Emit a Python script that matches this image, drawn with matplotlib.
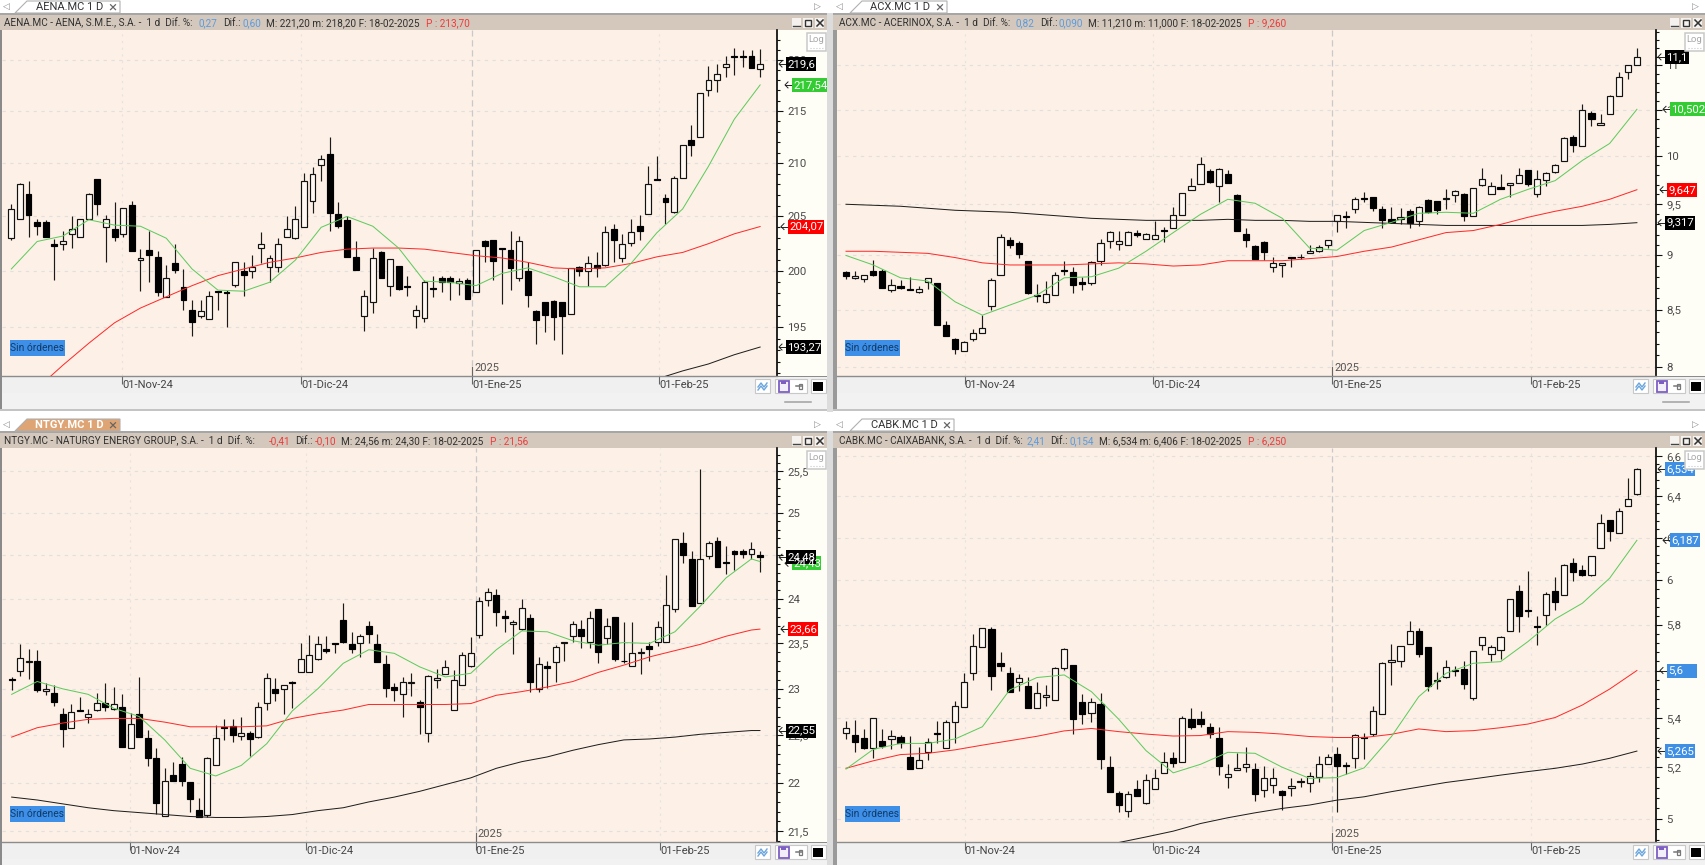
import matplotlib
matplotlib.use("Agg")
import matplotlib.pyplot as plt
from matplotlib.patches import Rectangle, Polygon
from matplotlib.ticker import FixedLocator, FuncFormatter, NullFormatter

W, H = 1706, 865
FONT = "Roboto"
plt.rcParams["font.family"] = [FONT, "DejaVu Sans"]

# ---------- AENA ----------
aena_open = [203.0,204.8,207.1,204.5,204.5,202.5,202.5,203.4,203.1,204.8,
208.5,204.0,203.8,203.4,206.1,201.0,201.9,201.3,197.7,200.7,
198.6,196.5,196.0,195.7,198.2,198.1,198.8,200.0,200.0,202.1,
200.4,200.4,203.1,203.0,204.0,206.4,209.8,210.9,205.2,204.7,
201.3,196.0,197.2,201.7,198.7,200.5,198.7,196.0,195.8,198.5,
199.4,199.4,198.9,199.2,198.1,202.7,202.8,202.1,201.9,199.4,
200.0,196.4,197.2,197.3,197.2,196.2,200.4,200.0,200.6,200.6,
203.8,201.2,202.6,204.1,205.2,208.5,206.7,205.4,208.6,212.2,
212.5,217.0,218.0,219.3,220.4,220.4,220.4,219.1]
aena_close = [205.7,208.0,205.1,204.1,203.1,202.3,202.7,203.8,204.8,207.1,
206.2,204.8,203.1,205.8,201.8,201.2,201.5,198.1,199.4,200.1,
197.4,195.5,196.4,197.8,198.1,198.0,200.8,199.7,200.4,202.5,
201.2,202.5,203.8,204.8,208.3,209.0,210.4,205.3,204.1,201.3,
200.1,197.8,201.2,199.4,201.1,198.4,198.6,196.5,199.0,198.4,
199.0,199.0,199.1,197.5,201.9,202.3,200.9,202.0,200.3,202.7,
197.9,195.6,196.1,195.9,196.0,200.3,200.0,200.7,200.3,203.6,
202.8,202.5,203.6,203.7,208.0,208.4,206.3,208.6,211.7,211.7,
216.7,218.0,218.6,219.6,220.3,220.3,219.2,219.6]
aena_high = [206.2,208.1,208.3,204.8,204.7,202.9,203.7,205.0,204.8,207.2,
208.5,205.1,206.3,205.8,206.4,202.0,203.7,201.8,200.6,202.5,
200.2,197.4,197.4,198.2,198.2,198.3,200.8,200.8,201.5,203.6,
201.5,203.0,205.0,206.0,209.1,209.6,210.8,212.5,206.3,205.0,
202.7,198.3,202.1,201.8,201.1,200.5,199.6,197.0,199.2,199.6,
199.6,199.6,199.4,199.4,201.9,202.8,202.8,202.1,203.7,203.2,
200.8,196.5,197.2,197.4,197.2,200.3,200.5,201.4,201.7,204.1,
204.3,203.4,204.8,205.1,209.7,210.7,207.1,208.8,211.7,213.6,
216.7,219.4,219.6,220.4,221.2,221.0,221.0,221.1]
aena_low = [202.8,204.8,203.1,203.3,203.1,199.2,201.9,202.1,203.1,204.8,
205.1,200.8,202.7,203.1,201.8,198.2,199.0,197.8,197.7,199.8,
196.5,194.2,195.8,195.7,196.5,195.0,198.6,197.8,199.4,200.7,
199.0,199.9,203.1,202.9,204.0,205.3,208.3,203.7,203.9,201.3,
200.1,194.7,196.3,199.4,197.8,198.3,197.8,194.9,195.5,197.7,
198.1,197.4,197.9,197.5,198.1,200.8,199.2,197.1,198.3,199.1,
196.8,193.5,194.6,193.9,192.7,196.2,199.6,198.7,199.5,200.5,
200.8,200.8,202.3,202.8,205.2,208.4,204.3,205.3,208.6,210.7,
212.5,216.5,216.8,218.3,218.5,219.3,219.2,218.3]
aena_ma_idx = list(range(0, 88, 3))
aena_green = [200.2,202.7,203.2,204.7,204.2,204.1,203.0,200.2,198.3,198.2,
199.0,201.0,204.0,205.0,204.1,202.1,199.1,199.0,198.7,199.8,
200.3,199.5,198.6,198.6,200.7,203.5,205.7,209.7,214.2,217.54]
aena_red_idx = list(range(3, 88, 3))
aena_red = [189.7,191.7,193.6,195.4,196.7,197.7,198.7,199.6,200.2,200.8,
201.2,201.7,202.0,202.1,202.1,202.0,201.7,201.4,201.2,200.8,
200.3,200.2,200.3,200.7,201.3,201.7,202.5,203.4,204.07]
aena_black_idx = [75, 78, 81, 84, 87]
aena_black = [190.5,191.2,191.8,192.6,193.27]

# ---------- ACX ----------
acx_open = [8.84,8.79,8.78,8.85,8.85,8.68,8.71,8.69,8.66,8.75,
8.74,8.36,8.24,8.14,8.24,8.29,8.53,8.82,9.15,9.12,
8.95,8.63,8.57,8.63,8.86,8.84,8.75,8.74,8.95,9.14,
9.11,9.10,9.22,9.16,9.16,9.25,9.26,9.39,9.64,9.71,
9.84,9.69,9.81,9.59,9.21,9.09,9.13,8.89,8.91,8.99,
8.985,9.02,9.04,9.10,9.33,9.38,9.45,9.56,9.57,9.45,
9.35,9.35,9.43,9.33,9.54,9.53,9.55,9.59,9.60,9.38,
9.70,9.60,9.67,9.70,9.72,9.85,9.60,9.75,9.83,9.94,
10.20,10.10,10.46,10.33,10.45,10.65,10.93,11.01]
acx_close = [8.81,8.81,8.82,8.82,8.70,8.72,8.70,8.68,8.69,8.79,
8.36,8.27,8.15,8.21,8.29,8.34,8.77,9.18,9.10,9.01,
8.65,8.62,8.64,8.82,8.85,8.72,8.73,8.94,9.12,9.23,
9.14,9.23,9.20,9.21,9.20,9.24,9.39,9.61,9.68,9.91,
9.73,9.86,9.72,9.24,9.15,8.97,9.03,8.93,8.93,8.98,
8.99,9.04,9.08,9.15,9.39,9.37,9.55,9.55,9.46,9.34,
9.32,9.37,9.31,9.47,9.42,9.44,9.56,9.63,9.38,9.66,
9.76,9.68,9.65,9.72,9.80,9.71,9.76,9.82,9.90,10.19,
10.11,10.49,10.39,10.35,10.65,10.87,11.01,11.10]
acx_high = [8.85,8.85,8.82,8.96,8.87,8.78,8.77,8.80,8.71,8.79,
8.74,8.40,8.25,8.22,8.33,8.45,8.79,9.21,9.18,9.14,
8.95,8.73,8.76,8.84,8.95,8.89,8.80,8.95,9.16,9.24,
9.24,9.24,9.25,9.22,9.33,9.27,9.47,9.61,9.77,9.99,
9.86,9.87,9.85,9.60,9.26,9.10,9.14,8.99,8.93,8.99,
9.01,9.10,9.10,9.15,9.39,9.43,9.57,9.62,9.57,9.48,
9.47,9.46,9.45,9.48,9.55,9.53,9.65,9.64,9.61,9.66,
9.87,9.73,9.81,9.72,9.87,9.85,9.85,9.83,9.91,10.20,
10.22,10.56,10.48,10.45,10.66,10.92,11.01,11.20]
acx_low = [8.78,8.78,8.75,8.81,8.70,8.66,8.69,8.68,8.65,8.69,
8.36,8.27,8.11,8.14,8.22,8.29,8.50,8.82,9.07,8.98,
8.64,8.57,8.56,8.63,8.82,8.65,8.68,8.72,8.91,9.07,
9.05,9.10,9.18,9.16,9.16,9.13,9.26,9.39,9.64,9.71,
9.72,9.52,9.72,9.24,9.08,8.97,8.96,8.84,8.80,8.89,
8.97,9.02,9.03,9.07,9.23,9.26,9.41,9.52,9.43,9.26,
9.31,9.30,9.26,9.28,9.41,9.40,9.45,9.52,9.33,9.38,
9.68,9.60,9.66,9.57,9.72,9.68,9.57,9.68,9.82,9.94,
10.04,10.10,10.32,10.33,10.45,10.65,10.84,11.01]
acx_ma_idx = list(range(0, 88, 3))
acx_green = [9.00,8.91,8.79,8.76,8.57,8.45,8.54,8.63,8.79,8.80,
8.88,9.04,9.22,9.40,9.55,9.51,9.36,9.07,9.05,9.24,
9.32,9.41,9.42,9.41,9.55,9.65,9.74,9.95,10.13,10.502]
acx_red = [9.04,9.04,9.03,9.02,8.98,8.93,8.91,8.91,8.91,8.92,
8.93,8.92,8.90,8.91,8.95,8.95,8.95,8.97,8.99,9.04,
9.08,9.15,9.22,9.24,9.30,9.37,9.43,9.48,9.55,9.647]
acx_black = [9.50,9.49,9.48,9.46,9.44,9.43,9.42,9.40,9.38,9.36,
9.35,9.34,9.34,9.34,9.35,9.34,9.34,9.33,9.33,9.32,
9.31,9.30,9.29,9.29,9.29,9.29,9.29,9.29,9.30,9.317]

# ---------- NTGY ----------
ntgy_open = [23.11,23.20,23.29,23.31,22.98,22.96,22.73,22.58,22.77,22.70,
22.77,22.85,22.78,22.80,22.36,22.73,22.47,22.26,21.66,22.08,
22.20,22.01,21.72,21.67,22.19,22.59,22.60,22.49,22.52,22.48,
22.85,23.00,23.00,23.07,23.18,23.18,23.33,23.44,23.50,23.76,
23.49,23.50,23.70,23.49,23.27,23.02,22.94,23.06,22.86,22.52,
23.10,23.16,22.77,23.04,23.25,23.59,23.99,24.05,23.81,23.72,
23.66,23.78,23.00,23.25,23.29,23.50,23.58,23.66,23.52,23.89,
23.56,23.80,23.31,23.25,23.39,23.47,23.52,23.52,23.89,24.64,
24.46,23.96,24.49,24.67,24.43,24.55,24.55,24.52,24.50]
ntgy_close = [23.10,23.34,23.31,22.99,23.00,22.86,22.57,22.75,22.76,22.73,
22.85,22.80,22.84,22.37,22.62,22.48,22.26,21.79,22.02,22.02,
22.02,21.83,21.64,22.26,22.47,22.58,22.50,22.52,22.46,22.80,
23.12,22.95,23.04,23.06,23.33,23.37,23.49,23.42,23.49,23.52,
23.44,23.58,23.60,23.29,23.01,22.99,23.08,23.08,22.80,23.14,
23.12,23.24,23.10,23.37,23.39,23.98,24.08,23.85,23.79,23.74,
23.90,23.07,23.27,23.23,23.46,23.52,23.72,23.58,23.78,23.40,
23.70,23.33,23.30,23.39,23.41,23.44,23.68,23.93,24.69,24.50,
23.92,24.46,24.64,24.37,24.41,24.52,24.52,24.58,24.48]
ntgy_high = [23.13,23.49,23.44,23.43,23.06,23.04,22.79,22.84,22.91,22.78,
22.95,23.06,23.02,22.94,22.74,23.13,22.56,22.36,22.15,22.22,
22.27,22.01,21.84,22.27,22.61,22.67,22.67,22.70,22.54,22.86,
23.17,23.12,23.04,23.09,23.51,23.59,23.58,23.58,23.51,23.95,
23.63,23.61,23.75,23.60,23.37,23.06,23.13,23.17,22.88,23.15,
23.22,23.32,23.21,23.40,23.57,24.02,24.13,24.11,23.87,23.76,
24.00,23.83,23.35,23.30,23.48,23.52,23.75,23.76,23.86,23.89,
23.79,23.80,23.74,23.74,23.45,23.52,23.75,24.28,24.69,24.77,
24.55,25.52,24.67,24.71,24.61,24.56,24.58,24.66,24.55]
ntgy_low = [22.99,23.14,23.11,22.97,22.93,22.81,22.37,22.58,22.76,22.63,
22.76,22.76,22.77,22.37,22.36,22.48,22.17,21.68,21.66,22.02,
21.97,21.70,21.64,21.64,22.19,22.45,22.43,22.45,22.28,22.47,
22.77,22.87,22.73,22.79,23.18,23.18,23.32,23.39,23.39,23.50,
23.39,23.35,23.50,23.29,22.91,22.87,22.69,22.92,22.51,22.43,
23.01,23.16,22.77,23.04,23.24,23.56,23.92,23.69,23.63,23.38,
23.65,22.97,22.97,23.01,23.07,23.30,23.52,23.45,23.45,23.28,
23.49,23.30,23.28,23.25,23.16,23.31,23.47,23.52,23.85,24.41,
23.92,23.96,24.46,24.37,24.29,24.33,24.47,24.46,24.31]
ntgy_ma_idx = list(range(0, 89, 3)) + [88]
ntgy_green = [22.94,23.08,23.00,22.94,22.79,22.70,22.45,22.15,22.07,22.18,
22.41,22.76,23.00,23.28,23.43,23.39,23.24,23.13,23.17,23.43,
23.64,23.63,23.53,23.48,23.51,23.50,23.63,23.92,24.24,24.46,24.43]
ntgy_red = [22.48,22.58,22.63,22.67,22.68,22.68,22.64,22.59,22.59,22.59,
22.60,22.68,22.73,22.77,22.83,22.83,22.83,22.83,22.84,22.93,
22.97,23.02,23.08,23.18,23.26,23.35,23.42,23.49,23.58,23.65,23.66]
ntgy_black = [21.85,21.82,21.78,21.74,21.71,21.69,21.67,21.65,21.64,21.64,
21.65,21.67,21.71,21.74,21.80,21.85,21.91,21.98,22.05,22.15,
22.22,22.27,22.34,22.40,22.45,22.46,22.48,22.51,22.53,22.55,22.55]

# ---------- CABK ----------
cabk_open = [5.340,5.330,5.317,5.276,5.305,5.313,5.322,5.240,5.198,5.263,
5.337,5.279,5.382,5.447,5.591,5.700,5.781,5.634,5.588,5.551,
5.534,5.440,5.486,5.475,5.610,5.624,5.465,5.419,5.458,5.202,
5.100,5.030,5.114,5.058,5.116,5.176,5.236,5.220,5.397,5.394,
5.363,5.317,5.163,5.188,5.201,5.192,5.109,5.130,5.108,5.117,
5.143,5.138,5.163,5.212,5.253,5.208,5.239,5.322,5.334,5.417,
5.635,5.641,5.716,5.772,5.700,5.555,5.571,5.604,5.607,5.482,
5.712,5.673,5.689,5.770,5.952,5.866,5.793,5.845,5.952,5.934,
6.081,6.047,6.024,6.152,6.282,6.221,6.351,6.410]
cabk_close = [5.360,5.303,5.276,5.401,5.287,5.328,5.296,5.193,5.228,5.303,
5.333,5.382,5.450,5.549,5.705,5.784,5.575,5.618,5.507,5.568,
5.440,5.503,5.496,5.610,5.692,5.395,5.415,5.465,5.233,5.104,
5.052,5.093,5.088,5.148,5.159,5.220,5.216,5.401,5.363,5.375,
5.334,5.205,5.173,5.196,5.213,5.095,5.159,5.159,5.092,5.125,
5.147,5.165,5.212,5.240,5.205,5.204,5.330,5.320,5.431,5.634,
5.646,5.705,5.772,5.673,5.535,5.559,5.614,5.600,5.541,5.686,
5.744,5.700,5.744,5.914,5.840,5.860,5.790,5.940,5.902,6.072,
6.038,6.024,6.115,6.269,6.229,6.325,6.384,6.534]
cabk_high = [5.389,5.391,5.355,5.401,5.353,5.351,5.330,5.328,5.280,5.320,
5.387,5.391,5.471,5.588,5.757,5.787,5.788,5.682,5.617,5.584,
5.574,5.549,5.538,5.617,5.696,5.624,5.499,5.482,5.503,5.247,
5.106,5.106,5.150,5.173,5.193,5.263,5.260,5.409,5.442,5.428,
5.378,5.362,5.212,5.256,5.280,5.216,5.206,5.196,5.110,5.159,
5.159,5.182,5.247,5.252,5.283,5.222,5.333,5.337,5.451,5.635,
5.716,5.706,5.817,5.784,5.700,5.592,5.646,5.621,5.643,5.686,
5.747,5.711,5.751,5.914,5.980,6.041,5.837,5.949,6.015,6.074,
6.106,6.072,6.115,6.314,6.285,6.342,6.489,6.537]
cabk_low = [5.314,5.263,5.272,5.239,5.276,5.273,5.276,5.192,5.196,5.229,
5.296,5.276,5.296,5.447,5.559,5.700,5.517,5.598,5.507,5.513,
5.440,5.440,5.451,5.475,5.602,5.334,5.374,5.382,5.193,5.104,
5.024,5.006,5.088,5.055,5.116,5.176,5.202,5.220,5.355,5.362,
5.320,5.169,5.117,5.188,5.182,5.069,5.084,5.097,5.032,5.087,
5.121,5.104,5.143,5.212,5.024,5.175,5.196,5.233,5.328,5.416,
5.538,5.617,5.716,5.660,5.513,5.520,5.566,5.578,5.521,5.475,
5.689,5.643,5.648,5.770,5.769,5.836,5.711,5.798,5.866,5.931,
5.998,6.021,6.021,6.152,6.185,6.220,6.351,6.406]
cabk_ma_idx = list(range(0, 88, 3))
cabk_green = [5.193,5.272,5.296,5.296,5.314,5.364,5.517,5.570,5.581,5.510,
5.395,5.267,5.178,5.212,5.260,5.256,5.200,5.156,5.159,5.198,
5.324,5.489,5.588,5.631,5.638,5.725,5.825,5.896,6.010,6.187]
cabk_red = [5.196,5.226,5.251,5.256,5.270,5.289,5.307,5.325,5.347,5.357,
5.344,5.334,5.326,5.328,5.344,5.341,5.334,5.324,5.320,5.320,
5.333,5.355,5.344,5.348,5.360,5.375,5.402,5.454,5.521,5.600]
cabk_black_idx = list(range(30, 88, 3))
cabk_black = [4.909,4.930,4.952,4.981,5.003,5.022,5.039,5.052,5.071,5.084,
5.104,5.122,5.140,5.154,5.169,5.183,5.196,5.213,5.236,5.265]

date_labels = ["01-Nov-24", "01-Dic-24", "01-Ene-25", "01-Feb-25"]
year_label = "2025"

C_BG = "#FDF0E6"; C_HDR = "#D4C8BC"; C_AXIS = "#FFFEF6"; C_STRIP = "#F0F0F0"
C_BLUE = "#5B9BE0"; C_RED = "#F03A3A"; C_TAG_G = "#33CC33"; C_TAG_R = "#FF0000"; C_TAG_B = "#3F90E4"
FS = 7.4; HFS = 7.2

fig = plt.figure(figsize=(W / 100, H / 100), dpi=100, facecolor="white")
def frac(l, t, r, b):
    return [l / W, 1 - b / H, (r - l) / W, (b - t) / H]

back = fig.add_axes([0, 0, 1, 1], zorder=0); back.set_xlim(0, W); back.set_ylim(H, 0); back.axis("off")
over = fig.add_axes([0, 0, 1, 1], zorder=5); over.set_xlim(0, W); over.set_ylim(H, 0); over.axis("off"); over.patch.set_alpha(0)

def rect(a, x0, y0, x1, y1, fc, ec="none", lw=0, z=1):
    a.add_patch(Rectangle((x0, y0), x1 - x0, y1 - y0, fc=fc, ec=ec, lw=lw, zorder=z))

def chrome(p):
    l, r, t, b, wr = p["box"]
    fl = l - 2 if l < 10 else l - 4
    tab_t = t - 30
    rect(back, fl, t - 17, wr, t - 15, "#A6A6A6")
    rect(back, fl, t - 15, wr, t, C_HDR)
    rect(back, fl, t, l, b + 34, "#8A8A8A" if l < 10 else "#9A9A9A")
    rect(back, r, t, wr, b, C_AXIS)
    rect(back, l, b, wr, b + 17, C_STRIP)
    rect(back, l, b + 17, wr, min(b + 34, H), "#F2F2F2")
    rect(back, l, b, wr, b + 1.2, "#8C8C8C")
    if b + 34 < H:
        rect(back, fl, b + 33, wr, b + 35, "#C4C4C4")
    rect(back, wr, t - 17, wr + 6, min(b + 36, H), "#DCDCDC")
    tx0, tx1 = p["tab"]
    active = p.get("active", False)
    ty = t - 17
    pts = [(tx0 - 12, ty), (tx0, tab_t + 1), (tx1, tab_t + 1), (tx1, ty)]
    back.add_patch(Polygon(pts, closed=True, fc="#DFA474" if active else "white",
                           ec="#B0B0B0", lw=0.8, zorder=2))
    back.text(p["tabtxt"], (ty + tab_t) / 2 + 0.5, p["tabname"], fontsize=8, va="center",
              color="white" if active else "#333333", fontweight="bold" if active else "normal", zorder=3)
    back.text(tx1 - 8, (ty + tab_t) / 2 + 0.5, "\u00d7", fontsize=11, va="center", ha="center", color="#666666", zorder=3)
    back.text(fl + 3, (ty + tab_t) / 2, "\u25c1", fontsize=6.5, va="center", ha="left", color="#8A8A8A", zorder=3, family="DejaVu Sans")
    back.text(wr - 10, (ty + tab_t) / 2, "\u25b7", fontsize=6.5, va="center", ha="center", color="#8A8A8A", zorder=3, family="DejaVu Sans")
    yh = t - 7
    for x, s, c in p["header"]:
        back.text(x, yh, s, fontsize=HFS, va="center", ha="left", color=c, zorder=3)
    bx = wr - 35
    for i in range(3):
        rect(back, bx + i * 11.5, yh - 5, bx + i * 11.5 + 9.5, yh + 5, "#F4F1EE", z=3)
    over.plot([bx + 1.5, bx + 8], [yh + 3, yh + 3], color="#444", lw=1)
    rect(over, bx + 13.5, yh - 3, bx + 19.5, yh + 3, "none", ec="#333", lw=1)
    over.plot([bx + 25, bx + 31], [yh - 3, yh + 3], color="#333", lw=1.1)
    over.plot([bx + 25, bx + 31], [yh + 3, yh - 3], color="#333", lw=1.1)
    iy0, iy1 = b + 3, b + 17
    a0 = wr - 72
    rect(over, a0, iy0, a0 + 15, iy1, "white", ec="#C8C8C8", lw=0.8)
    over.plot([a0 + 3, a0 + 6, a0 + 9, a0 + 12], [iy0 + 8, iy0 + 4, iy0 + 8, iy0 + 4], color="#6AA5DC", lw=1)
    over.plot([a0 + 3, a0 + 6, a0 + 9, a0 + 12], [iy0 + 11, iy0 + 7, iy0 + 11, iy0 + 7], color="#6AA5DC", lw=1)
    a1 = wr - 52
    rect(over, a1, iy0, a1 + 32, iy1, "white", ec="#C8C8C8", lw=0.8)
    rect(over, a1 + 4, iy0 + 1.5, a1 + 14, iy1 - 1.5, "#F3EFFA", ec="#7D5FC4", lw=1.3)
    rect(over, a1 + 6.5, iy0 + 1.5, a1 + 11.5, iy0 + 5, "#7D5FC4")
    over.plot([a1 + 21, a1 + 27], [iy0 + 7, iy0 + 7], color="#777", lw=1.1)
    rect(over, a1 + 24, iy0 + 4.5, a1 + 27, iy0 + 9.5, "white", ec="#777", lw=0.9)
    a2 = wr - 16
    rect(over, a2, iy0, a2 + 15, iy1, "white", ec="#C8C8C8", lw=0.8)
    rect(over, a2 + 2.5, iy0 + 2.5, a2 + 12.5, iy1 - 2.5, "black")
    if b + 34 <= H:
        over.plot([wr - 42, wr - 16], [b + 26, b + 26], color="#A0A0A0", lw=1.1)
    sx, sy = p["sin"]
    rect(over, sx, sy, sx + 55, sy + 16, "#3D8FE8")
    over.text(sx + 27.5, sy + 8, "Sin \u00f3rdenes", fontsize=FS, ha="center", va="center", color="#123A66")
    lx = wr - 20
    ly = t + 3
    rect(over, lx, ly, lx + 19, ly + 18, "white", ec="#C9C9C9", lw=1.1, z=6)
    over.text(lx + 9.5, ly + 7, "Log", fontsize=6.8, ha="center", va="center", color="#A8A8A8", zorder=7)
    over.plot([lx + 3, lx + 16], [ly + 15, ly + 15], color="#C9C9C9", lw=0.8, ls=":", zorder=7)

def comma(v, _=None):
    s = f"{v:g}"
    return s.replace(".", ",")

def panel(p):
    chrome(p)
    l, r, t, b, wr = p["box"]
    ax = fig.add_axes(frac(l, t, r, b), zorder=2, facecolor=C_BG)
    ax.set_yscale("log")
    ax.set_xlim(*p["xlim"]); ax.set_ylim(*p["ylim"])
    for s in ("top", "left"):
        ax.spines[s].set_visible(False)
    ax.spines["bottom"].set_color("#8C8C8C"); ax.spines["bottom"].set_linewidth(1)
    ax.spines["right"].set_color("black"); ax.spines["right"].set_linewidth(1.2)
    ax.yaxis.tick_right()
    ax.yaxis.set_major_locator(FixedLocator(p["major"]))
    ax.yaxis.set_minor_locator(FixedLocator(p["minor"]))
    ax.yaxis.set_major_formatter(FuncFormatter(comma))
    ax.yaxis.set_minor_formatter(NullFormatter())
    ax.tick_params(axis="y", which="major", length=4.6, width=0.8, labelsize=FS + 0.8, pad=2.8, colors="#111111", labelcolor="#4A4A4A")
    ax.tick_params(axis="y", which="minor", length=2.3, width=0.8, colors="#111111")
    ax.set_xticks(p["xt"]); ax.set_xticklabels(date_labels)
    ax.tick_params(axis="x", length=5.8, width=0.8, color="#666666", labelsize=FS + 0.6, pad=-3.0, labelcolor="#444444")
    for lab in ax.get_xticklabels():
        lab.set_ha("left")
    for y in p["major"]:
        ax.axhline(y, color="#E2E0DE", lw=0.8, dashes=(3, 4), zorder=0.5)
    for i, x in enumerate(p["xt"]):
        ax.axvline(x, color="#C9C9C9" if i == 2 else "#E6E3E0", lw=0.9 if i == 2 else 0.8,
                   dashes=(5, 3) if i == 2 else (2, 4), zorder=0.5)
    xt2 = p["xt"][2]
    ax.plot([xt2, xt2], [0, 9 / (b - t)], transform=ax.get_xaxis_transform(), color="#666666", lw=0.8, zorder=3)
    ax.annotate(year_label, xy=(xt2, 0), xycoords=ax.get_xaxis_transform(), xytext=(2, 8), textcoords="offset pixels",
                fontsize=FS + 0.6, color="#555555", va="center", ha="left", zorder=3)
    o, h, lo, c = p["ohlc"]
    idx = list(range(len(o)))
    ax.vlines(idx, lo, h, color="#1A1A1A", lw=0.85, zorder=2)
    ups = [i for i in idx if c[i] >= o[i]]
    dns = [i for i in idx if c[i] < o[i]]
    ax.bar(ups, [c[i] - o[i] for i in ups], bottom=[o[i] for i in ups], width=0.68,
           facecolor="#FFF8F2", edgecolor="#111111", linewidth=0.85, zorder=2.2)
    ax.bar(dns, [o[i] - c[i] for i in dns], bottom=[c[i] for i in dns], width=0.68,
           facecolor="black", edgecolor="black", linewidth=0.85, zorder=2.2)
    for xs, ys, col in p["lines"]:
        ax.plot(xs, ys, color=col, lw=0.72, zorder=3)
    for val, text, bg, fg, x0, x1 in p["tags"]:
        y = H - ax.transData.transform((0, val))[1]
        rect(over, r + x0, y - 7, r + x1, y + 7, bg, z=4)
        over.text(r + x0 + 1.5, y, text, fontsize=FS + 0.8, va="center", ha="left", color=fg, zorder=5)
        ax0 = r + x0 - 7
        over.plot([ax0, ax0 + 7], [y, y], color="#222222", lw=0.7, zorder=3)
        over.plot([ax0 + 3, ax0, ax0 + 3], [y - 3, y, y + 3], color="#222222", lw=0.7, zorder=3)
    return ax

G, R, K = "#5CCB5C", "#FF2A2A", "#1E1E1E"
BH = "#303030"
panels = [
 dict(box=(2, 777, 30, 376, 827), tab=(27, 120), tabtxt=36, tabname="AENA.MC 1 D", sin=(10, 340),
      xlim=(-1.084, 88.96), ylim=(190.76, 223.0), major=[195, 200, 205, 210, 215, 220], minor=list(range(191, 223)),
      xt=[12.9, 33.65, 53.56, 75.29], ohlc=(aena_open, aena_high, aena_low, aena_close),
      lines=[(aena_black_idx, aena_black, K), (aena_red_idx, aena_red, R), (aena_ma_idx, aena_green, G)],
      tags=[(193.27, "193,27", "black", "white", 9, 44), (204.07, "204,07", C_TAG_R, "white", 11, 47),
            (217.54, "217,54", C_TAG_G, "white", 15, 50), (219.6, "219,6", "black", "white", 9, 39)],
      header=[(4.5, "AENA.MC - AENA, S.M.E., S.A. -  1 d  Dif. %:", BH), (199, "0,27", C_BLUE), (223, "Dif.:", BH),
              (243, "0,60", C_BLUE), (266, "M: 221,20 m: 218,20 F: 18-02-2025", BH), (426, "P : 213,70", C_RED)]),
 dict(box=(837, 1656, 30, 376, 1705), tab=(862, 947), tabtxt=870, tabname="ACX.MC 1 D", sin=(845, 340),
      xlim=(-0.99, 89.1), ylim=(7.924, 11.42), major=[8, 8.5, 9, 9.5, 10, 10.5, 11],
      minor=[round(7.9 + i * 0.1, 1) for i in range(36)],
      xt=[13.05, 33.8, 53.5, 75.4], ohlc=(acx_open, acx_high, acx_low, acx_close),
      lines=[(acx_ma_idx, acx_black, K), (acx_ma_idx, acx_red, R), (acx_ma_idx, acx_green, G)],
      tags=[(9.317, "9,317", "black", "white", 9, 39), (9.647, "9,647", C_TAG_R, "white", 11, 41),
            (10.502, "10,502", C_TAG_G, "white", 14, 49), (11.1, "11,1", "black", "white", 9, 33)],
      header=[(839.5, "ACX.MC - ACERINOX, S.A. -  1 d  Dif. %:", BH), (1016, "0,82", C_BLUE), (1040, "Dif.:", BH),
              (1059, "0,090", C_BLUE), (1088, "M: 11,210 m: 11,000 F: 18-02-2025", BH), (1248, "P : 9,260", C_RED)]),
 dict(box=(2, 777, 448, 842, 827), tab=(27, 120), tabtxt=35, tabname="NTGY.MC 1 D", sin=(10, 806), active=True,
      xlim=(-1.137, 90.01), ylim=(21.39, 25.78), major=[21.5, 22, 22.5, 23, 23.5, 24, 24.5, 25, 25.5],
      minor=[round(21.4 + i * 0.1, 1) for i in range(44)],
      xt=[13.88, 34.65, 54.57, 76.28], ohlc=(ntgy_open, ntgy_high, ntgy_low, ntgy_close),
      lines=[(ntgy_ma_idx, ntgy_black, K), (ntgy_ma_idx, ntgy_red, R), (ntgy_ma_idx, ntgy_green, G)],
      tags=[(22.55, "22,55", "black", "white", 9, 39), (23.66, "23,66", C_TAG_R, "white", 11, 41),
            (24.41, "24,43", C_TAG_G, "white", 15, 44), (24.48, "24,48", "black", "white", 9, 39)],
      header=[(4.5, "NTGY.MC - NATURGY ENERGY GROUP, S.A. -  1 d  Dif. %:", BH), (269, "-0,41", C_RED), (295, "Dif.:", BH),
              (315, "-0,10", C_RED), (341, "M: 24,56 m: 24,30 F: 18-02-2025", BH), (490, "P : 21,56", C_RED)]),
 dict(box=(837, 1656, 448, 842, 1705), tab=(862, 954), tabtxt=871, tabname="CABK.MC 1 D", sin=(845, 806),
      xlim=(-0.99, 89.1), ylim=(4.911, 6.64), major=[5, 5.2, 5.4, 5.6, 5.8, 6, 6.2, 6.4, 6.6],
      minor=[round(4.92 + i * 0.04, 2) for i in range(43)],
      xt=[13.05, 33.8, 53.5, 75.4], ohlc=(cabk_open, cabk_high, cabk_low, cabk_close),
      lines=[(cabk_black_idx, cabk_black, K), (cabk_ma_idx, cabk_red, R), (cabk_ma_idx, cabk_green, G)],
      tags=[(5.265, "5,265", C_TAG_B, "white", 9, 39), (5.6, "5,6", C_TAG_B, "white", 11, 41),
            (6.187, "6,187", C_TAG_B, "white", 14, 44), (6.534, "6,534", C_TAG_B, "white", 9, 39)],
      header=[(839, "CABK.MC - CAIXABANK, S.A. -  1 d  Dif. %:", BH), (1027, "2,41", C_BLUE), (1050, "Dif.:", BH),
              (1070, "0,154", C_BLUE), (1099, "M: 6,534 m: 6,406 F: 18-02-2025", BH), (1248, "P : 6,250", C_RED)]),
]
for p in panels:
    panel(p)
fig.savefig("out.png", dpi=100)
